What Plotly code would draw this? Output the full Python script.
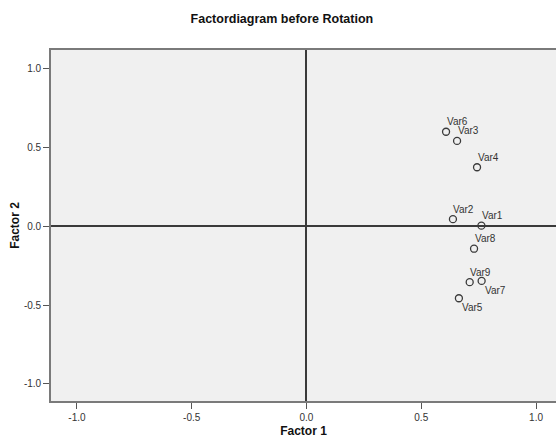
import plotly.graph_objects as go

# Factor loadings (unrotated solution)
variables = ["Var1", "Var2", "Var3", "Var4", "Var5", "Var6", "Var7", "Var8", "Var9"]
factor1 = [0.762, 0.638, 0.656, 0.743, 0.664, 0.608, 0.763, 0.730, 0.711]
factor2 = [0.003, 0.044, 0.540, 0.373, -0.457, 0.598, -0.347, -0.143, -0.355]

tick_vals = [-1.0, -0.5, 0.0, 0.5, 1.0]
tick_text = ["-1.0", "-0.5", "0.0", "0.5", "1.0"]

# label placement: (dx, dy) pixel offsets of the label centre from its point
label_shift = {"Var5": (14, -9), "Var7": (14, -10)}
default_shift = (11, 10)

FONT = "Liberation Sans, Arial, sans-serif"
INK = "#333333"

fig = go.Figure()
fig.add_trace(go.Scatter(
    x=factor1, y=factor2, mode="markers",
    marker=dict(symbol="circle-open", size=7, color="#3a3a3a",
                line=dict(width=1.3, color="#3a3a3a")),
    hoverinfo="text", text=variables, showlegend=False,
))

for name, fx, fy in zip(variables, factor1, factor2):
    dx, dy = label_shift.get(name, default_shift)
    fig.add_annotation(x=fx, y=fy, text=name, showarrow=False,
                       xshift=dx, yshift=dy,
                       font=dict(family=FONT, size=10, color=INK))

axis_common = dict(
    tickvals=tick_vals, ticktext=tick_text,
    ticks="outside", ticklen=6, tickwidth=1.2, tickcolor="#555555",
    tickfont=dict(family=FONT, size=10, color=INK),
    showgrid=False,
    zeroline=True, zerolinecolor="#3a3a3a", zerolinewidth=1.5,
    showline=True, linecolor="#7a7a7a", linewidth=1.6,
)

fig.update_layout(
    width=556, height=438,
    margin=dict(l=51, r=0, t=50, b=37),
    paper_bgcolor="white", plot_bgcolor="#f0f0f0",
    title=dict(text="<b>Factordiagram before Rotation</b>",
               x=0.507, xanchor="center", y=0.958, yanchor="middle",
               font=dict(family=FONT, size=12.5, color="#111111")),
    xaxis=dict(range=[-1.113, 1.087], mirror=True,
               title=dict(text="<b>Factor 1</b>", standoff=6,
                          font=dict(family=FONT, size=12, color="#111111")),
               **axis_common),
    yaxis=dict(range=[-1.108, 1.116], mirror=False,
               title=dict(text="<b>Factor 2</b>", standoff=2,
                          font=dict(family=FONT, size=12, color="#111111")),
               **axis_common),
)

fig.write_html("out.html")
